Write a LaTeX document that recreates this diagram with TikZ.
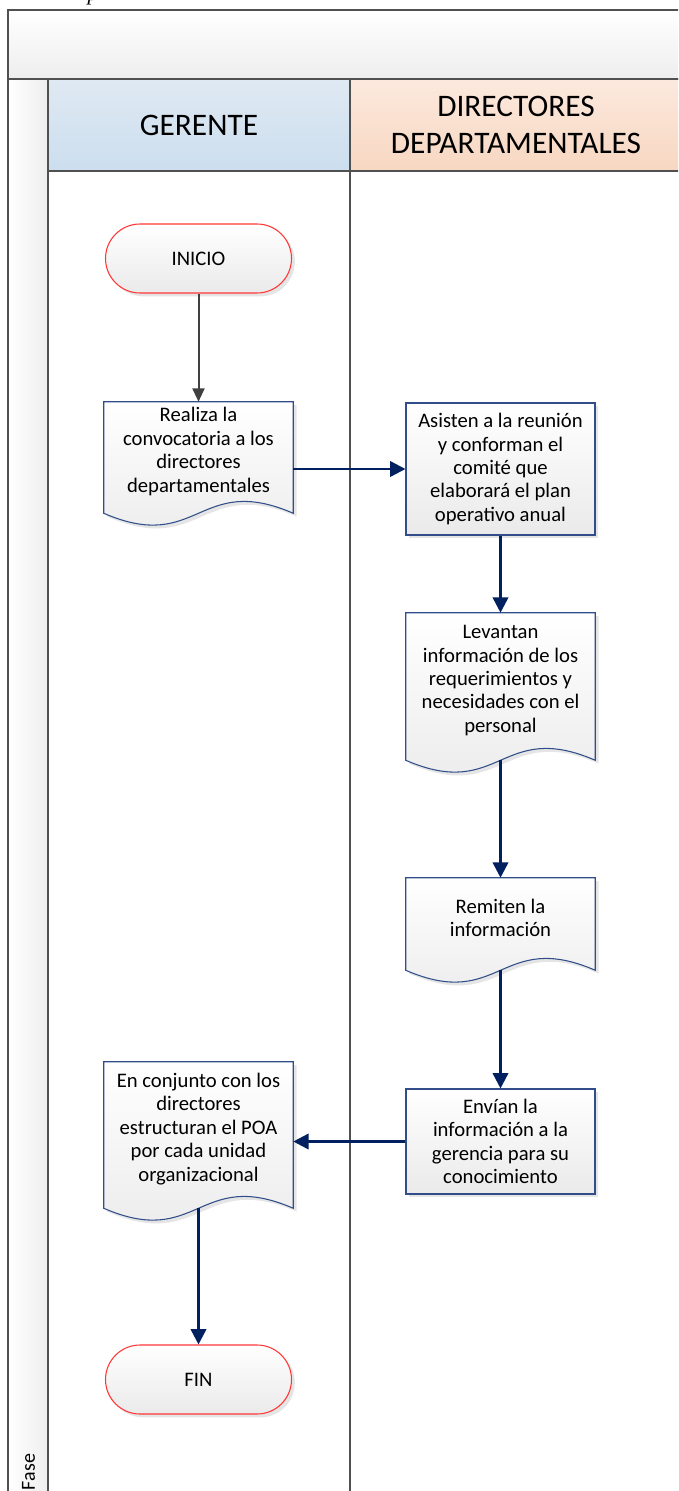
\documentclass[tikz,border=0pt]{standalone}
\usepackage{fontspec}
\setmainfont{Carlito}
\newfontfamily\captionserif{Liberation Serif}
\usetikzlibrary{arrows.meta,shadows,calc,shapes.misc}
\pgfdeclarelayer{bg}
\pgfsetlayers{bg,main}

\definecolor{frameline}{RGB}{80,80,80}
\definecolor{bandlow}{RGB}{238,238,238}
\definecolor{bluetop}{RGB}{223,233,243}
\definecolor{bluelow}{RGB}{204,222,238}
\definecolor{peachtop}{RGB}{252,233,222}
\definecolor{peachlow}{RGB}{247,215,193}
\definecolor{boxline}{RGB}{50,78,138}
\definecolor{boxlow}{RGB}{234,234,234}
\definecolor{flowline}{RGB}{0,32,96}
\definecolor{startline}{RGB}{255,55,55}
\definecolor{firstline}{RGB}{64,64,64}

\tikzset{
  lane/.style={draw=frameline, line width=1.5pt},
  hdr/.style={font=\fontsize{23.5}{28}\selectfont, align=center, inner sep=0pt},
  boxshade/.style={drop shadow={shadow xshift=2.5pt, shadow yshift=-2.5pt, opacity=0.22, fill=black!45}},
  boxtext/.style={font=\fontsize{15.5}{17.6}\selectfont, align=center, inner sep=2pt, minimum width=141.75pt},
  proc/.style={boxtext, rectangle, draw=boxline, line width=0.8pt, top color=white, bottom color=boxlow, boxshade},
  doc/.style={boxtext, rectangle},
  docbody/.style={draw=boxline, line width=0.8pt, top color=white, bottom color=boxlow, boxshade},
  term/.style={boxtext, rounded rectangle, draw=startline, line width=0.8pt, top color=white, bottom color=boxlow,
    minimum width=143.5pt, minimum height=51.75pt, boxshade},
  flow/.style={draw=flowline, line width=1.9pt, -{Triangle[length=11.5pt,width=11.5pt]}},
  firstflow/.style={draw=firstline, line width=1.5pt, -{Triangle[length=10pt,width=9pt]}}
}

% outline of a document symbol around the text block of node #1,
% straight sides run 12 units below the block, then one wave
\newcommand\docoutline[1]{%
  \begin{pgfonlayer}{bg}
    \path[docbody] (#1.north west) -- (#1.north east) -- ($(#1.south east)+(0,12)$)
      .. controls ($(#1.south)+(0,-29)$) and ($(#1.south)+(0,53)$) .. ($(#1.south west)+(0,12)$) -- cycle;
  \end{pgfonlayer}
  \coordinate (#1-b) at ($(#1.south)+(0,12)$);
}

\begin{document}
\begin{tikzpicture}[x=0.75pt,y=-0.75pt]
\useasboundingbox (0,0) rectangle (678,1491);
\clip (0,0) rectangle (678,1491);
\begin{pgfonlayer}{bg}
  \fill[white] (0,0) rectangle (678,1491);
\end{pgfonlayer}

% tail of the caption line above the figure
\node[font=\captionserif\itshape\fontsize{16}{16}\selectfont, anchor=base, inner sep=0pt] (cap) at (93,1) {p};

% pool frame, title band and phase column
\shade[top color=white, bottom color=bandlow] (8,10) rectangle (700,79);
\draw[lane] (8,10) rectangle (700,79);
\shade[left color=white, right color=bandlow] (8,79) rectangle (48,1510);
\draw[lane] (8,79) rectangle (48,1510);

% lane headers
\shade[top color=bluetop, bottom color=bluelow] (48,79) rectangle (350,171);
\shade[top color=peachtop, bottom color=peachlow] (350,79) rectangle (700,171);
\draw[lane] (48,79) rectangle (350,171);
\draw[lane] (350,79) rectangle (700,171);
\draw[lane] (350,171) -- (350,1510);

\node[hdr] (hg) at (199,125) {GERENTE};
\node[hdr] (hd) at (516,125) {DIRECTORES\\DEPARTAMENTALES};
\node[rotate=90, font=\fontsize{15}{15}\selectfont, inner sep=0pt] (fase) at (28.5,1472) {Fase};

% process steps
\node[term] (ini) at (198.5,258.5) {INICIO};

\node[doc, minimum height=74.25pt] (b1) at (198.5,451.5)
  {Realiza la\\convocatoria a los\\directores\\departamentales};
\docoutline{b1}

\node[proc, minimum height=99pt] (b2) at (500.5,469)
  {Asisten a la reunión\\y conforman el\\comité que\\elaborará el plan\\operativo anual};

\node[doc, minimum height=101.25pt] (b3) at (500.5,680.5)
  {Levantan\\información de los\\requerimientos y\\necesidades con el\\personal};
\docoutline{b3}

\node[doc, minimum height=60pt] (b4) at (500.5,918)
  {Remiten la\\información};
\docoutline{b4}

\node[proc, minimum height=78.75pt] (b5) at (500.5,1141.5)
  {Envían la\\información a la\\gerencia para su\\conocimiento};

\node[doc, minimum height=100.5pt] (b6) at (198.5,1129)
  {En conjunto con los\\directores\\estructuran el POA\\por cada unidad\\organizacional};
\docoutline{b6}

\node[term] (fin) at (198.5,1379.5) {FIN};

% connectors
\draw[firstflow] (ini.south) -- (b1.north);
\draw[flow] (b1.east |- b2.west) -- (b2.west);
\draw[flow] (b2.south) -- (b3.north);
\draw[flow] (b3-b) -- (b4.north);
\draw[flow] (b4-b) -- (b5.north);
\draw[flow] (b5.west) -- (b5.west -| b6.east);
\draw[flow] (b6-b) -- (fin.north);
\end{tikzpicture}
\end{document}
